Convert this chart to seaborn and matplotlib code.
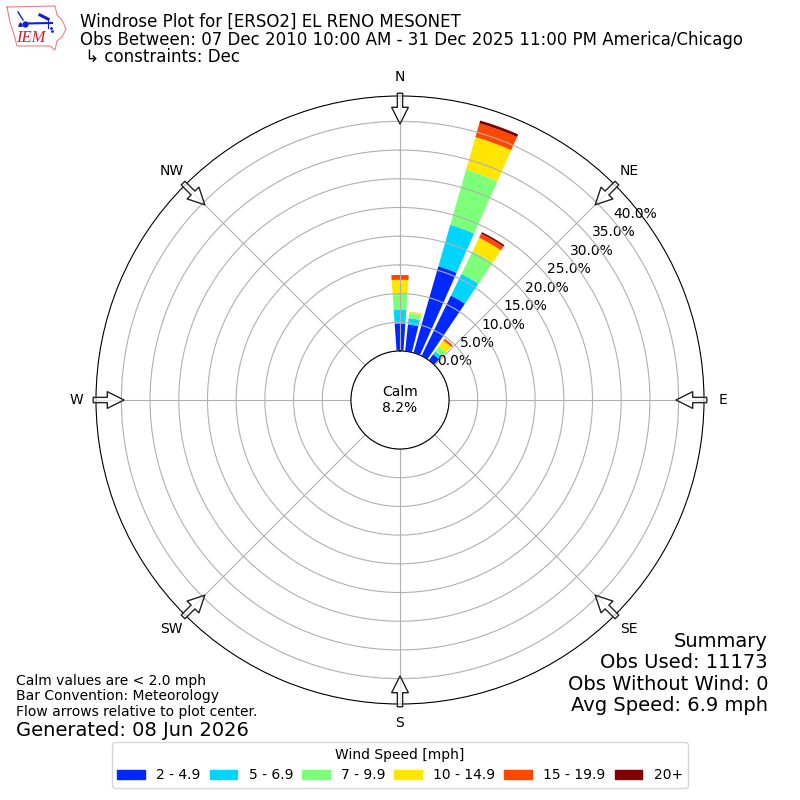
import numpy as np
import pandas as pd
import matplotlib
matplotlib.use("Agg")
import matplotlib.pyplot as plt
from matplotlib.patches import Patch
import seaborn as sns

# wind rose values, percent of obs per direction bin
directions = [0, 10, 20, 30, 40]
speed_labels = ["2 - 4.9", "5 - 6.9", "7 - 9.9", "10 - 14.9", "15 - 19.9", "20+"]
speed_colors = ["#0028ff", "#00d5ff", "#7dff7a", "#ffe600", "#ff4700", "#800000"]
pct_2_5 = [4.8, 4.7, 15.7, 11.7, 1.3]
pct_5_7 = [2.35, 1.1, 7.5, 4.2, 0.6]
pct_7_10 = [2.8, 0.85, 10.0, 4.4, 1.1]
pct_10_15 = [2.45, 0.25, 5.9, 2.6, 1.3]
pct_15_20 = [0.85, 0.02, 2.5, 0.8, 0.35]
pct_20_up = [0.0, 0.0, 0.5, 0.3, 0.03]
calm_pct = 8.2
compass = ["N", "NE", "E", "SE", "S", "SW", "W", "NW"]
compass_deg = [0, 45, 90, 135, 180, 225, 270, 315]
rings = [0, 5, 10, 15, 20, 25, 30, 35, 40]

fig = plt.figure(figsize=(8, 8), dpi=100)
ax = fig.add_axes([0.12, 0.12, 0.76, 0.76], projection="polar")
ax.set_theta_zero_location("N")
ax.set_theta_direction(-1)

# stacked bars
df = pd.DataFrame({"theta": np.deg2rad(directions)})
bottom = np.zeros(len(directions))
all_pct = [pct_2_5, pct_5_7, pct_7_10, pct_10_15, pct_15_20, pct_20_up]
for vals, col in zip(all_pct, speed_colors):
    df["pct"] = vals
    sns.barplot(data=df, x="theta", y="pct", native_scale=True, color=col, saturation=1,
                width=0.8, errorbar=None, bottom=bottom, linewidth=0, ax=ax)
    bottom = bottom + np.array(vals)

ax.set_xlabel("")
ax.set_ylabel("")
ax.set_rorigin(-8.54)
ax.set_rlim(0, 44.42)
ax.set_xticks(np.deg2rad(compass_deg))
ax.set_xticklabels(compass)
ax.tick_params(axis="x", pad=3.5)
ax.set_yticks(rings)
ax.set_yticklabels([f"{r:.1f}%" for r in rings])
ax.set_rlabel_position(50)
ax.grid(True)

ax.text(0.5, 0.5, f"Calm\n{calm_pct}%", transform=ax.transAxes, ha="center", va="center", fontsize=10)

# flow arrows around the edge
for d in compass_deg:
    ax.annotate("", xy=(np.deg2rad(d), 39.55), xytext=(np.deg2rad(d), 44.9), xycoords="data", textcoords="data",
                annotation_clip=False,
                arrowprops=dict(width=3.8, headwidth=12, headlength=12, fc=(1, 1, 1, 0.7), ec="#222222", lw=1))

# header and notes
fig.text(80 / 800, 1 - 13 / 800,
         "Windrose Plot for [ERSO2] EL RENO MESONET\n"
         "Obs Between: 07 Dec 2010 10:00 AM - 31 Dec 2025 11:00 PM America/Chicago\n"
         " \u21b3 constraints: Dec", fontsize=12, va="top", linespacing=0.97)
fig.text(768 / 800, 1 - 715 / 800, "Summary\nObs Used: 11173\nObs Without Wind: 0\nAvg Speed: 6.9 mph",
         ha="right", va="bottom", fontsize=14, linespacing=1.15)
fig.text(16 / 800, 1 - 719 / 800, "Calm values are < 2.0 mph\nBar Convention: Meteorology\nFlow arrows relative to plot center.",
         fontsize=10, va="bottom", linespacing=1.15)
fig.text(16 / 800, 1 - 740 / 800, "Generated: 08 Jun 2026", fontsize=14, va="bottom")

# legend
handles = [Patch(color=c, label=l) for c, l in zip(speed_colors, speed_labels)]
fig.legend(handles=handles, title="Wind Speed [mph]", ncol=6, loc="center", bbox_to_anchor=(0.5, 1 - 765 / 800),
           fontsize=10, columnspacing=0.65, handletextpad=0.8)

# logo drawn in pixel coords
logo = fig.add_axes([0, 0, 1, 1], facecolor="none")
logo.set_xlim(0, 800)
logo.set_ylim(800, 0)
logo.axis("off")
logo.plot([7, 55, 57, 62, 66, 62, 57, 55, 50, 17, 15, 10, 7], [7, 6, 15, 20, 29, 37, 41, 50, 46, 46, 38, 22, 7],
          color="#e88088", lw=0.8)
logo.plot([25, 52], [23.5, 23], color="#1020d0", lw=1.5)
logo.plot([25], [23.5], "o", color="#1020d0", ms=3.5)
logo.plot([18, 23], [12, 20], color="#1020d0", lw=1)
logo.plot([20], [24], "^", color="#1020d0", ms=2.5)
logo.plot([40, 48], [15, 19], color="#1020d0", lw=2.2)
logo.plot([48, 48], [19, 28], color="#1020d0", lw=0.8)
logo.plot([51, 52], [28, 31], ".", color="#1020d0", ms=2)
logo.text(31, 38, "IEM", color="#d02030", fontsize=12, family="Liberation Serif", style="italic", ha="center", va="center")

fig.savefig("out.png", dpi=100)
